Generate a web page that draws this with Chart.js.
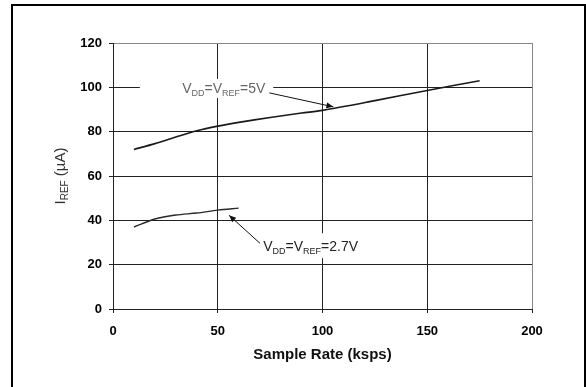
<!DOCTYPE html>
<html>
  <head>
    <meta charset="utf-8" />
    <title>IREF vs Sample Rate</title>
    <script src="https://cdn.jsdelivr.net/npm/chart.js@4"></script>
    <style>
      body { margin: 0; background: #fff; }
      #wrap { width: 586px; height: 387px; }
    </style>
  </head>
  <body>
    <div id="wrap"><canvas id="myChart"></canvas></div>
    <script>
      // data
      const rate5V = [10, 20, 30, 40, 50, 60, 75, 90, 100, 125, 150, 175];
      const iref5V = [72, 74.6, 77.6, 80.4, 82.5, 84.2, 86.4, 88.4, 89.6, 94, 98.6, 103];
      const rate27V = [10, 20, 30, 40, 50, 60];
      const iref27V = [37, 40.6, 42.4, 43.3, 44.6, 45.5];
      const xTicks = [0, 50, 100, 150, 200];
      const yTicks = [0, 20, 40, 60, 80, 100, 120];
      const label5V = [["V", 0], ["DD", 1], ["=V", 0], ["REF", 1], ["=5V", 0]];
      const label27V = [["V", 0], ["DD", 1], ["=V", 0], ["REF", 1], ["=2.7V", 0]];

      const FONT = "'Liberation Sans', Arial, sans-serif";

      // callouts, positioned in data units
      const callouts = [
        { parts: label5V, color: "#666", at: [33, 99.8], from: [74.6, 97.5], to: [105.2, 91.2], box: [12.8, 103.8, 76.5, 95.2] },
        { parts: label27V, color: "#222", at: [71.7, 28.3], from: [70.2, 29.6], to: [55.4, 42.3], box: [67.9, 34.2, 118, 22.9] },
      ];

      function drawParts(ctx, parts, x, y, size, subSize, color) {
        ctx.fillStyle = color;
        ctx.textBaseline = "alphabetic";
        ctx.textAlign = "left";
        parts.forEach(([t, sub]) => {
          ctx.font = (sub ? subSize : size) + "px " + FONT;
          ctx.fillText(t, x, sub ? y + 3 : y);
          x += ctx.measureText(t).width;
        });
      }

      const extras = {
        id: "extras",
        beforeDatasetsDraw(chart) {
          const { ctx, scales: { x, y } } = chart;
          ctx.save();
          ctx.fillStyle = "#fff";
          callouts.forEach((c) => {
            const [x0, y0, x1, y1] = c.box;
            ctx.fillRect(x.getPixelForValue(x0), y.getPixelForValue(y0),
              x.getPixelForValue(x1) - x.getPixelForValue(x0), y.getPixelForValue(y1) - y.getPixelForValue(y0));
          });
          ctx.restore();
        },
        afterDatasetsDraw(chart) {
          const { ctx, scales: { x, y }, chartArea } = chart;
          ctx.save();
          callouts.forEach((c) => {
            drawParts(ctx, c.parts, x.getPixelForValue(c.at[0]), y.getPixelForValue(c.at[1]) + 5, 14, 9, c.color);
            const fx = x.getPixelForValue(c.from[0]), fy = y.getPixelForValue(c.from[1]);
            const tx = x.getPixelForValue(c.to[0]), ty = y.getPixelForValue(c.to[1]);
            const a = Math.atan2(ty - fy, tx - fx);
            ctx.strokeStyle = "#111";
            ctx.lineWidth = 1;
            ctx.beginPath();
            ctx.moveTo(fx, fy);
            ctx.lineTo(tx, ty);
            ctx.stroke();
            ctx.fillStyle = "#111";
            ctx.beginPath();
            ctx.moveTo(tx, ty);
            ctx.lineTo(tx - 7 * Math.cos(a) + 3 * Math.sin(a), ty - 7 * Math.sin(a) - 3 * Math.cos(a));
            ctx.lineTo(tx - 7 * Math.cos(a) - 3 * Math.sin(a), ty - 7 * Math.sin(a) + 3 * Math.cos(a));
            ctx.closePath();
            ctx.fill();
          });

          // axis titles
          ctx.fillStyle = "#111";
          ctx.font = "bold 15px " + FONT;
          ctx.textAlign = "center";
          ctx.textBaseline = "middle";
          ctx.fillText("Sample Rate (ksps)", (chartArea.left + chartArea.right) / 2, 355);

          ctx.translate(60, (chartArea.top + chartArea.bottom) / 2);
          ctx.rotate(-Math.PI / 2);
          ctx.font = "15px " + FONT;
          let w = 0;
          const yParts = [["I", 0], ["REF", 1], [" (\u00b5A)", 0]];
          yParts.forEach(([t, sub]) => {
            ctx.font = (sub ? 10 : 15) + "px " + FONT;
            w += ctx.measureText(t).width;
          });
          drawParts(ctx, yParts, -w / 2, 5, 15, 10, "#333");
          ctx.restore();

          // outer frame
          ctx.save();
          ctx.strokeStyle = "#000";
          ctx.lineWidth = 2;
          ctx.beginPath();
          ctx.moveTo(12, 387);
          ctx.lineTo(12, 5);
          ctx.lineTo(585, 5);
          ctx.lineTo(585, 387);
          ctx.stroke();
          ctx.restore();
        },
      };

      const config = {
        type: "scatter",
        data: {
          datasets: [
            {
              label: "VDD=VREF=5V",
              data: rate5V.map((r, i) => ({ x: r, y: iref5V[i] })),
              showLine: true,
              borderColor: "#1a1a1a",
              borderWidth: 1.6,
              pointRadius: 0,
              tension: 0.3,
            },
            {
              label: "VDD=VREF=2.7V",
              data: rate27V.map((r, i) => ({ x: r, y: iref27V[i] })),
              showLine: true,
              borderColor: "#2a2a2a",
              borderWidth: 1.4,
              pointRadius: 0,
              tension: 0.3,
            },
          ],
        },
        options: {
          responsive: true,
          maintainAspectRatio: false,
          animation: false,
          layout: { padding: { left: 0, top: 43, right: 54, bottom: 0 } },
          plugins: { legend: { display: false }, tooltip: { enabled: false } },
          scales: {
            x: {
              type: "linear",
              min: 0,
              max: 200,
              afterBuildTicks: (s) => { s.ticks = xTicks.map((v) => ({ value: v })); },
              afterFit: (s) => { s.height = 78; },
              grid: {
                color: (c) => (c.tick && c.tick.value === 200 ? "#888" : "#222"),
                tickColor: "#222",
                tickLength: 4,
              },
              border: { color: "#222" },
              ticks: { color: "#000", font: { family: FONT, size: 13, weight: "bold" }, padding: 11, maxRotation: 0 },
            },
            y: {
              min: 0,
              max: 120,
              afterBuildTicks: (s) => { s.ticks = yTicks.map((v) => ({ value: v })); },
              afterFit: (s) => { s.width = 113; },
              grid: {
                color: (c) => (c.tick && c.tick.value === 120 ? "#888" : "#222"),
                tickColor: "#222",
                tickLength: 4,
              },
              border: { color: "#222" },
              ticks: { color: "#000", font: { family: FONT, size: 13, weight: "bold" }, padding: 7 },
            },
          },
        },
        plugins: [extras],
      };

      const myChart = new Chart(document.getElementById("myChart"), config);
    </script>
  </body>
</html>
